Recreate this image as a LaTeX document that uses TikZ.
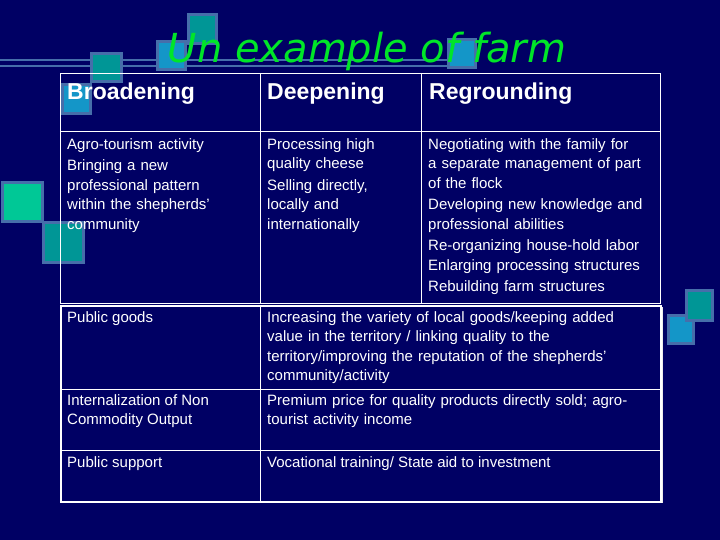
\documentclass[tikz,border=0pt]{standalone}
\usepackage{fontspec}
\setmainfont{Liberation Sans}
\newfontfamily\titlefont{DejaVu Sans}
\definecolor{bgc}{RGB}{0,0,100}
\definecolor{sqedge}{RGB}{70,110,170}
\definecolor{sqa}{RGB}{20,150,200}
\definecolor{sqb}{RGB}{0,150,150}
\definecolor{sqc}{RGB}{0,200,150}
\begin{document}
\begin{tikzpicture}[x=1pt,y=-1pt,
  cell/.style={anchor=north west,inner sep=0pt,align=left,text=white,font=\fontsize{15}{19.5}\selectfont},
  hdr/.style={anchor=north west,inner sep=0pt,text=white,font=\fontsize{23}{26}\selectfont\bfseries},
  grid/.style={draw=white,line width=1pt},
  sqA/.style={fill=sqa,draw=sqedge,line width=3pt},
  sqB/.style={fill=sqb,draw=sqedge,line width=3pt},
  sqC/.style={fill=sqc,draw=sqedge,line width=3pt}]
\fill[bgc] (0,0) rectangle (720,540);
\useasboundingbox (0,0) rectangle (720,540);
% decorations
\draw[sqedge,line width=2pt] (0,60) -- (455,60);
\draw[sqedge,line width=2pt] (0,66) -- (455,66);
\draw[sqB] (188,15) rectangle (216,44);
\draw[sqA] (157,42) rectangle (185,70);
\draw[sqB] (91,54) rectangle (121,82);
\draw[sqA] (62,85) rectangle (90,114);
\draw[sqC] (2,183) rectangle (42,222);
\draw[sqB] (43,223) rectangle (83,262);
\draw[sqA] (448,40) rectangle (475,68);
\draw[sqA] (668,315) rectangle (693,343);
\draw[sqB] (686,290) rectangle (712,320);
% title
\node[anchor=base,inner sep=0pt,text={rgb,255:red,0;green,230;blue,40},font=\titlefont\fontsize{40}{42}\selectfont\itshape] (title) at (367,63) {Un example of farm};
% upper table
\node[grid,inner sep=0pt,minimum width=600,minimum height=230,anchor=north west] (T1) at (60,73) {};
\draw[grid] (60,132) -- (660,132);
\draw[grid] (260,73) -- (260,303);
\draw[grid] (421,73) -- (421,303);
\node[hdr] (h1) at (67,83) {Broadening};
\node[hdr] (h2) at (267,83) {Deepening};
\node[hdr] (h3) at (429,83) {Regrounding};
\node[cell,text width=190] (c1) at (67,138) {Agro-tourism activity\\[2pt]Bringing a new\\professional pattern\\within the shepherds'\\community};
\node[cell,text width=150] (c2) at (267,138) {Processing high\\quality cheese\\[2pt]Selling directly,\\locally and\\internationally};
\node[cell,text width=235] (c3) at (428,138) {Negotiating with the family for\\a separate management of part\\of the flock\\[2pt]Developing new knowledge and\\professional abilities\\[2pt]Re-organizing house-hold labor\\Enlarging processing structures\\[2pt]Rebuilding farm structures};
% lower table
\fill[white!85!gray] (62,307) rectangle (663,503);
\node[grid,fill=bgc,line width=2pt,inner sep=0pt,minimum width=600,minimum height=196,anchor=north west] (T2) at (60,305) {};
\draw[grid] (60,389) -- (660,389);
\draw[grid] (60,450) -- (660,450);
\draw[grid] (260,305) -- (260,501);
\node[cell] (d1) at (67,311) {Public goods};
\node[cell,text width=390] (e1) at (267,311) {Increasing the variety of local goods/keeping added\\value in the territory / linking quality to the\\territory/improving the reputation of the shepherds'\\community/activity};
\node[cell] (d2) at (67,394) {Internalization of Non\\Commodity Output};
\node[cell,text width=390] (e2) at (267,394) {Premium price for quality products directly sold; agro-\\tourist activity income};
\node[cell] (d3) at (67,456) {Public support};
\node[cell] (e3) at (267,456) {Vocational training/ State aid to investment};
\end{tikzpicture}
\end{document}
